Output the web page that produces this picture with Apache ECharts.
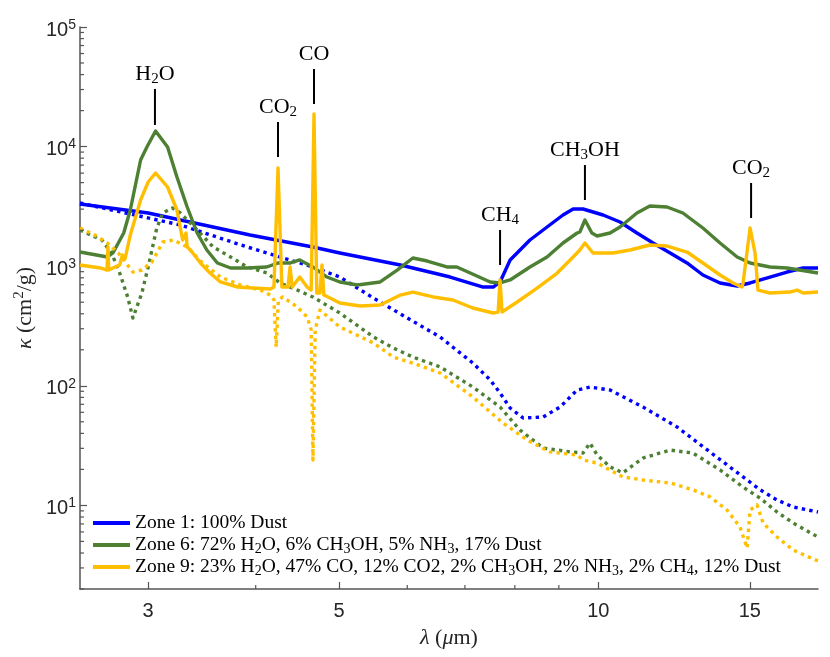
<!DOCTYPE html>
<html><head><meta charset="utf-8">
<script src="https://cdn.jsdelivr.net/npm/echarts@6/dist/echarts.min.js"></script>
<style>html,body{margin:0;padding:0;background:#fff}#c{width:830px;height:657px}</style>
</head><body><div id="c"></div>
<script>
// ---- data: [wavelength (um), kappa (cm^2/g)] ----
const zone1Solid = [[2.50,3313],[3.00,2785],[3.94,1823],[4.66,1447],[5.01,1290],[5.89,1023],[6.73,812],[7.35,670],[7.55,670],[7.69,738],[7.90,1127],[8.33,1656],[8.72,2127],[9.10,2680],[9.35,3008],[9.60,3008],[10.13,2680],[10.60,2342],[11.09,1895],[11.58,1563],[12.12,1290],[12.68,1064],[13.23,844],[13.85,724],[14.50,683],[15.01,724],[15.83,812],[16.57,894],[17.30,966],[18.0,966]];
const zone1Dotted = [[2.50,3376],[2.86,2730],[3.27,2211],[3.91,1447],[4.66,985],[5.01,812],[5.48,542],[6.00,369],[6.55,256],[7.15,155],[7.49,112],[7.69,87.1],[7.90,65.2],[8.18,53.8],[8.63,54.8],[9.03,66.5],[9.45,92.2],[9.78,97.7],[10.32,92.2],[11.27,66.5],[12.35,45.2],[13.48,28.0],[14.73,17.3],[15.42,13.5],[16.13,11.1],[16.84,9.70],[18.0,8.81]];
const zone6Solid = [[2.50,1314],[2.69,1194],[2.73,1290],[2.81,1895],[2.86,2951],[2.94,7730],[2.99,9920],[3.06,13510],[3.16,9920],[3.24,5570],[3.33,3126],[3.42,1895],[3.51,1366],[3.61,1064],[3.74,966],[3.91,966],[4.12,985],[4.25,1064],[4.39,1064],[4.50,1127],[4.66,985],[4.84,812],[5.01,738],[5.25,696],[5.58,738],[5.84,929],[6.09,1171],[6.33,1105],[6.67,985],[6.85,985],[7.10,877],[7.49,738],[7.69,724],[7.90,767],[8.33,985],[8.72,1194],[9.10,1563],[9.45,1895],[9.52,1932],[9.65,2434],[9.83,1895],[9.97,1788],[10.32,1895],[10.60,2127],[11.09,2785],[11.48,3187],[12.02,3126],[12.54,2785],[13.23,2086],[13.85,1563],[14.50,1194],[15.01,1064],[15.83,985],[16.57,966],[18.0,877]];
const zone6Dotted = [[2.50,2008],[2.65,1656],[2.72,1290],[2.78,877],[2.84,553],[2.88,369],[2.95,597],[3.00,985],[3.07,2086],[3.12,2785],[3.20,3066],[3.27,2785],[3.42,2008],[3.57,1447],[3.74,1194],[3.91,985],[4.12,877],[4.27,724],[4.47,632],[4.66,553],[5.01,406],[5.48,256],[5.78,207],[6.09,174],[6.55,144],[7.15,97.7],[7.69,66.5],[8.11,42.7],[8.63,30.2],[9.27,28.0],[9.60,27.4],[9.78,33.2],[9.97,26.4],[10.32,21.0],[10.68,18.7],[11.27,24.9],[12.12,29.0],[12.88,27.4],[13.85,19.8],[14.73,14.2],[15.42,11.5],[16.13,8.81],[16.84,7.13],[18.0,5.44]];
const zone9Solid = [[2.50,1023],[2.64,966],[2.687,929],[2.694,1450],[2.70,929],[2.73,966],[2.78,1023],[2.80,1240],[2.82,1150],[2.86,1823],[2.94,3577],[3.00,5060],[3.06,6015],[3.16,4595],[3.24,2951],[3.29,1656],[3.32,1895],[3.33,1447],[3.36,1366],[3.45,1064],[3.54,877],[3.64,738],[3.81,670],[3.97,657],[4.16,645],[4.20,670],[4.246,6625],[4.29,670],[4.36,670],[4.385,985],[4.41,670],[4.50,812],[4.59,670],[4.64,632],[4.675,18740],[4.71,597],[4.75,597],[4.776,1023],[4.80,574],[4.88,542],[5.01,492],[5.29,465],[5.58,474],[5.89,574],[6.09,608],[6.43,553],[6.78,522],[7.15,447],[7.55,406],[7.65,414],[7.69,767],[7.73,414],[7.75,430],[8.05,502],[8.49,657],[8.96,877],[9.35,1194],[9.52,1366],[9.65,1563],[9.86,1290],[10.40,1290],[10.89,1366],[11.48,1504],[12.02,1475],[12.68,1314],[13.23,1064],[13.85,844],[14.34,724],[14.69,670],[14.73,724],[15.01,2086],[15.21,1290],[15.33,632],[15.83,597],[16.70,608],[17.02,632],[17.30,597],[18.0,608]];
const zone9Dotted = [[2.50,2086],[2.60,1823],[2.69,1563],[2.77,1290],[2.88,894],[2.95,929],[3.03,1084],[3.12,1593],[3.21,1656],[3.33,1447],[3.47,1064],[3.64,812],[3.84,696],[4.05,632],[4.16,574],[4.20,522],[4.225,211],[4.25,522],[4.30,553],[4.47,456],[4.59,376],[4.64,293],[4.662,24.0],[4.69,293],[4.75,430],[5.01,310],[5.48,228],[5.78,174],[6.09,155],[6.55,128],[7.15,80.6],[7.63,53.8],[7.75,48.9],[8.27,35.2],[8.79,28.0],[9.45,26.4],[9.60,24.0],[9.97,22.6],[10.68,17.3],[11.27,16.3],[12.12,15.4],[12.88,13.5],[13.48,11.8],[14.11,9.15],[14.61,6.60],[14.89,4.40],[15.01,9.15],[15.29,10.1],[15.54,7.13],[16.13,5.44],[16.84,4.24],[17.86,3.50],[18.0,3.45]];

const legendLabels = [
  'Zone 1: 100% Dust',
  'Zone 6: 72% H{sub|2}O, 6% CH{sub|3}OH, 5% NH{sub|3}, 17% Dust',
  'Zone 9: 23% H{sub|2}O, 47% CO, 12% CO2, 2% CH{sub|3}OH, 2% NH{sub|3}, 2% CH{sub|4}, 12% Dust'
];
const annotLabels = ['H{sub|2}O','CO{sub|2}','CO','CH{sub|4}','CH{sub|3}OH','CO{sub|2}'];
const annotLambda = [3.055, 4.246, 4.675, 7.69, 9.65, 15.05];
const annotTop = [30340, 16060, 44550, 2009, 7015, 4965];
const annotBottom = [15170, 8180, 22700, 1023, 3577, 2530];

const xTickLabels = [3, 5, 10, 15];
const xMinorTicks = [4, 6, 7, 8, 9];
const yTickLabels = [10, 100, 1000, 10000, 100000];
const yMinorTicks = [2,3,4,5,6,7,8,9,20,30,40,50,60,70,80,90,200,300,400,500,600,700,800,900,2000,3000,4000,5000,6000,7000,8000,9000,20000,30000,40000,50000,60000,70000,80000,90000];

// ---- styling ----
const SERIF = 'Liberation Serif';
const SANS = 'Liberation Sans';
const INK = '#262626';
const AXIS = '#555555';
const BLUE = '#0000ff', GREEN = '#4d8033', GOLD = '#ffbf00';
const X_MIN = 2.5, X_MAX = 18, Y_MIN = 2, Y_MAX = 100000;

function lineSeries(name, data, color, dotted, z) {
  return {
    type: 'line', name: name, data: data, showSymbol: false, symbol: 'none',
    z: z, silent: true, animation: false,
    itemStyle: { color: color },
    lineStyle: { color: color, width: 3.4, type: dotted ? [3.4, 4.2] : 'solid', cap: 'butt', join: 'round' },
    emphasis: { disabled: true }
  };
}

const subSerif = (size, lh) => ({ fontFamily: SERIF, fontSize: size, verticalAlign: 'bottom', lineHeight: lh });

const chart = echarts.init(document.getElementById('c'), null, { renderer: 'canvas' });
const option = {
  animation: false,
  backgroundColor: '#ffffff',
  textStyle: { fontFamily: SERIF },
  grid: { left: 80, right: 12, top: 27, bottom: 68 },
  legend: {
    show: true, data: ['zone1', 'zone6', 'zone9'], orient: 'vertical',
    left: 93, top: 512, padding: 0, itemGap: 0, itemWidth: 37, itemHeight: 4,
    icon: 'rect', selectedMode: false,
    formatter: function (n) { return legendLabels[['zone1','zone6','zone9'].indexOf(n)]; },
    textStyle: {
      fontFamily: SERIF, fontSize: 19.5, color: '#000', lineHeight: 22,
      rich: { sub: subSerif(14, 14) }
    }
  },
  xAxis: {
    type: 'log', logBase: 10, min: X_MIN, max: X_MAX,
    name: '{i|λ} ({i|μ}m)', nameLocation: 'middle', nameGap: 38, nameMoveOverlap: false,
    nameTextStyle: {
      fontFamily: SERIF, fontSize: 22, color: INK,
      rich: { i: { fontFamily: SERIF, fontSize: 22, fontStyle: 'italic', color: INK } }
    },
    axisLine: { show: true, onZero: false, lineStyle: { color: AXIS, width: 1.5 } },
    axisTick: { show: true, inside: true, length: 7, customValues: xTickLabels, lineStyle: { color: AXIS, width: 1.2 } },
    axisLabel: { show: true, customValues: xTickLabels, formatter: function (v) { return String(Math.round(v)); },
      fontFamily: SANS, fontSize: 20, color: INK, margin: 12 },
    splitLine: { show: false }, minorTick: { show: false }
  },
  yAxis: {
    type: 'log', logBase: 10, min: Y_MIN, max: Y_MAX,
    name: '{i|κ} (cm{sup|2}/g)', nameLocation: 'middle', nameGap: 42, nameRotate: 90, nameMoveOverlap: false,
    nameTextStyle: {
      fontFamily: SERIF, fontSize: 22, color: INK, lineHeight: 26,
      rich: {
        i: { fontFamily: SERIF, fontSize: 22, fontStyle: 'italic', color: INK, lineHeight: 26 },
        sup: { fontFamily: SERIF, fontSize: 15, color: INK, verticalAlign: 'top', lineHeight: 14 }
      }
    },
    axisLine: { show: true, onZero: false, lineStyle: { color: AXIS, width: 1.5 } },
    axisTick: { show: true, inside: true, length: 7, customValues: yTickLabels, lineStyle: { color: AXIS, width: 1.2 } },
    axisLabel: {
      show: true, customValues: yTickLabels, margin: 4, padding: [6, 0, 0, 0],
      formatter: function (v) { return '10{sup|' + Math.round(Math.log10(v)) + '}'; },
      fontFamily: SANS, fontSize: 20, color: INK, lineHeight: 24,
      rich: { sup: { fontFamily: SANS, fontSize: 14, color: INK, verticalAlign: 'top', lineHeight: 14 } }
    },
    splitLine: { show: false }, minorTick: { show: false }
  },
  series: [
    lineSeries('zone1', zone1Solid, BLUE, false, 2),
    lineSeries('zone1dot', zone1Dotted, BLUE, true, 2),
    lineSeries('zone6', zone6Solid, GREEN, false, 3),
    lineSeries('zone6dot', zone6Dotted, GREEN, true, 3),
    lineSeries('zone9', zone9Solid, GOLD, false, 4),
    lineSeries('zone9dot', zone9Dotted, GOLD, true, 4),
    {
      type: 'custom', silent: true, z: 6, clip: false,
      data: xMinorTicks.map(function (v) { return [v, Y_MIN]; }),
      renderItem: function (p, api) {
        const c = api.coord([api.value(0), api.value(1)]);
        return { type: 'line', shape: { x1: c[0], y1: c[1], x2: c[0], y2: c[1] - 4 }, style: { stroke: AXIS, lineWidth: 1.2 } };
      }
    },
    {
      type: 'custom', silent: true, z: 6, clip: false,
      data: yMinorTicks.map(function (v) { return [X_MIN, v]; }),
      renderItem: function (p, api) {
        const c = api.coord([api.value(0), api.value(1)]);
        return { type: 'line', shape: { x1: c[0], y1: c[1], x2: c[0] + 4, y2: c[1] }, style: { stroke: AXIS, lineWidth: 1.2 } };
      }
    },
    {
      type: 'custom', silent: true, z: 7, clip: false,
      data: annotLambda.map(function (l, i) { return [l, annotTop[i], annotBottom[i]]; }),
      encode: { x: 0, y: [1, 2] },
      renderItem: function (p, api) {
        const t = api.coord([api.value(0), api.value(1)]);
        const b = api.coord([api.value(0), api.value(2)]);
        return {
          type: 'group', children: [
            { type: 'line', shape: { x1: t[0], y1: t[1], x2: b[0], y2: b[1] }, style: { stroke: '#000', lineWidth: 2 } },
            { type: 'text', x: t[0], y: t[1] - 15, style: {
                text: annotLabels[p.dataIndex], fill: '#000', fontFamily: SERIF, fontSize: 22,
                align: 'center', verticalAlign: 'middle', lineHeight: 26,
                rich: { sub: { fontFamily: SERIF, fontSize: 15, fill: '#000', verticalAlign: 'bottom', lineHeight: 16 } }
            } }
          ]
        };
      }
    }
  ]
};
chart.setOption(option);
</script>
</body></html>
